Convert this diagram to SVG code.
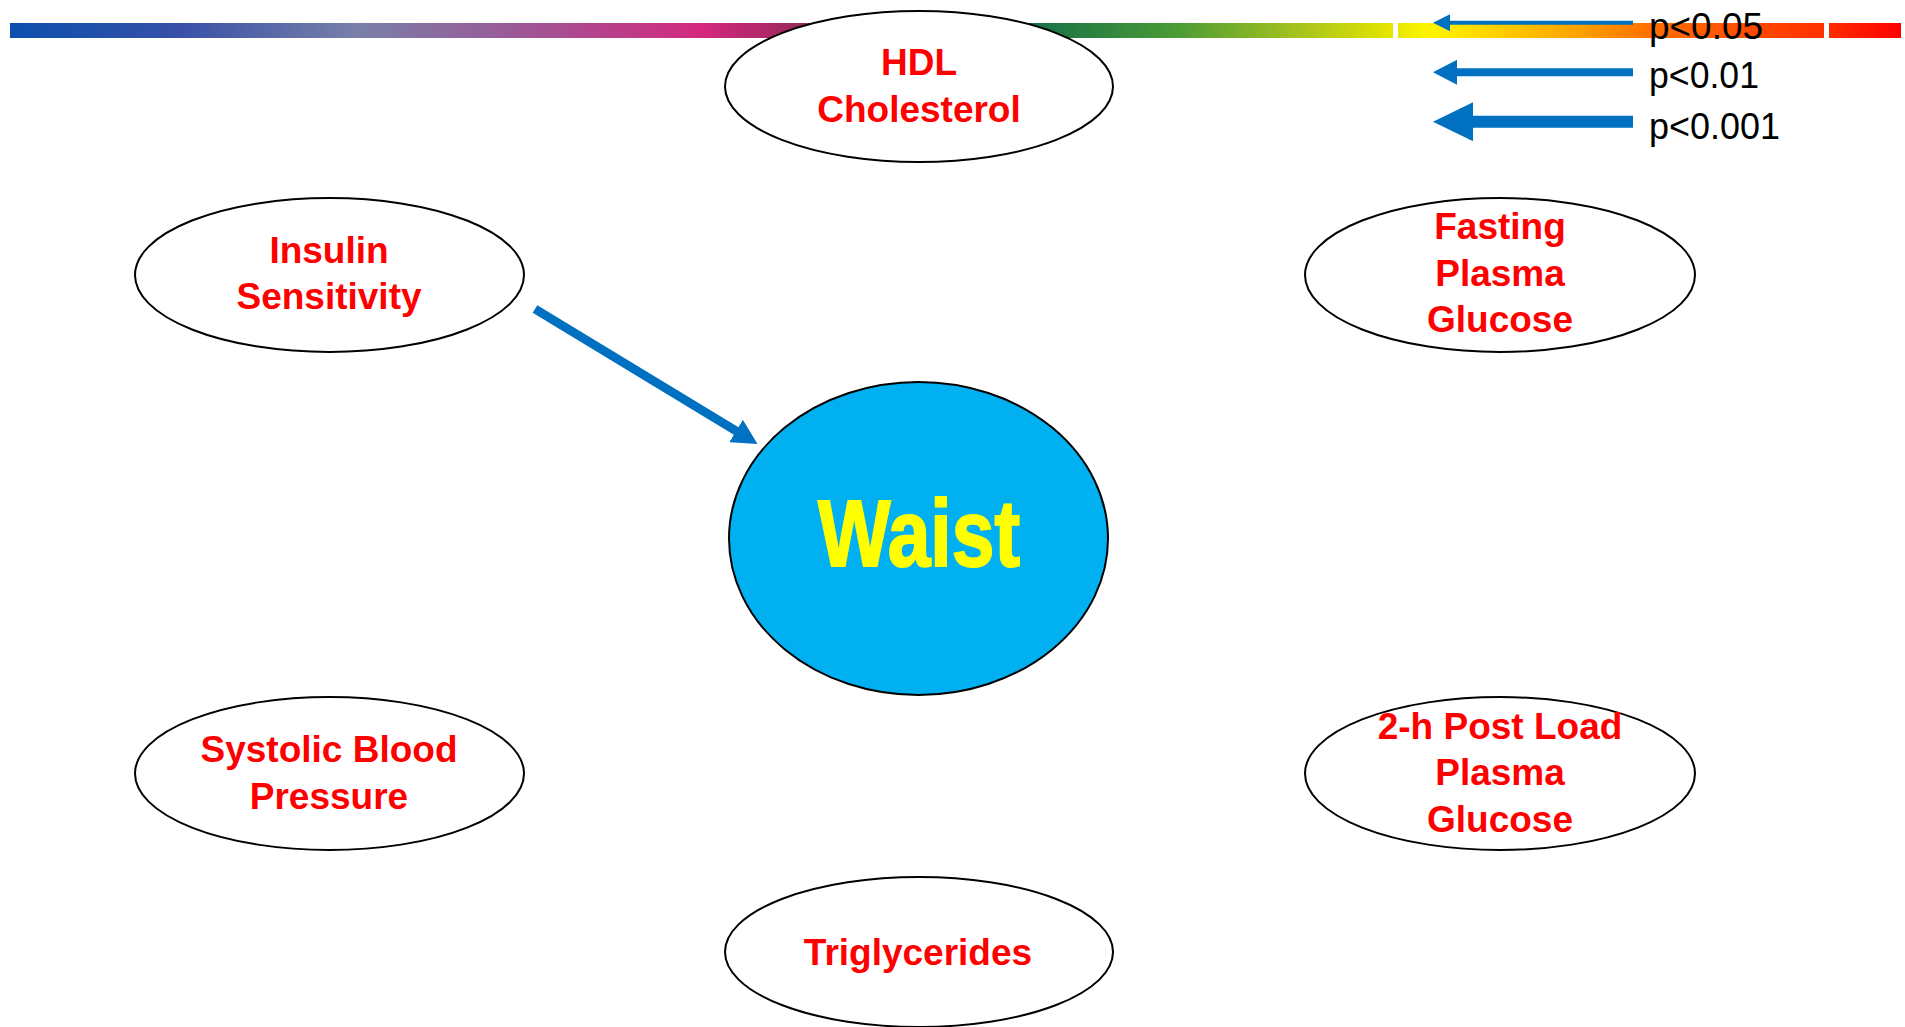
<svg xmlns="http://www.w3.org/2000/svg" width="1905" height="1027" viewBox="0 0 1905 1027">
  <defs>
    <linearGradient id="bar" gradientUnits="userSpaceOnUse" x1="10" y1="0" x2="1901" y2="0">
      <stop offset="0" stop-color="#0a50ae"/>
      <stop offset="0.09" stop-color="#3850a8"/>
      <stop offset="0.183" stop-color="#7880a8"/>
      <stop offset="0.264" stop-color="#9a5a98"/>
      <stop offset="0.367" stop-color="#d4287e"/>
      <stop offset="0.412" stop-color="#a02860"/>
      <stop offset="0.54" stop-color="#157048"/>
      <stop offset="0.616" stop-color="#4a9a35"/>
      <stop offset="0.677" stop-color="#a0c020"/>
      <stop offset="0.731" stop-color="#e6e600"/>
      <stop offset="0.751" stop-color="#fff500"/>
      <stop offset="0.831" stop-color="#ffa000"/>
      <stop offset="0.867" stop-color="#ff7000"/>
      <stop offset="0.959" stop-color="#ff3000"/>
      <stop offset="1" stop-color="#ff0000"/>
    </linearGradient>
    <marker id="headBig" markerUnits="userSpaceOnUse" markerWidth="26" markerHeight="26" refX="1" refY="13" orient="auto">
      <path d="M0,0 L25,13 L0,26 z" fill="#0070c0"/>
    </marker>
    <marker id="head1" markerUnits="userSpaceOnUse" markerWidth="18" markerHeight="17" refX="1" refY="8.5" orient="auto">
      <path d="M0,0 L17,8.5 L0,17 z" fill="#0070c0"/>
    </marker>
    <marker id="head2" markerUnits="userSpaceOnUse" markerWidth="25" markerHeight="25" refX="1" refY="12.5" orient="auto">
      <path d="M0,0 L24,12.5 L0,25 z" fill="#0070c0"/>
    </marker>
    <marker id="head3" markerUnits="userSpaceOnUse" markerWidth="41" markerHeight="39" refX="1" refY="19.5" orient="auto">
      <path d="M0,0 L40,19.5 L0,39 z" fill="#0070c0"/>
    </marker>
  </defs>
  <style>
    .node { fill: #ffffff; stroke: #000000; stroke-width: 2; }
    .lbl { fill: #ff0000; font-family: "Liberation Sans", Arial, sans-serif; font-weight: bold; font-size: 37px; text-anchor: middle; }
    .leg { fill: #000000; font-family: "Liberation Sans", Arial, sans-serif; font-size: 37px; }
    .conn { stroke: #0070c0; fill: none; }
  </style>

  <g id="colour-bar">
    <rect x="10" y="23" width="1891" height="15" fill="url(#bar)"/>
    <rect x="1393" y="22" width="5" height="17" fill="#ffffff"/>
    <rect x="1824" y="22" width="5" height="17" fill="#ffffff"/>
  </g>

  <g id="node-hdl">
    <ellipse class="node" cx="919" cy="86.5" rx="194" ry="75.5"/>
    <text class="lbl" x="919" y="75">HDL</text>
    <text class="lbl" x="919" y="122">Cholesterol</text>
  </g>

  <g id="node-insulin">
    <ellipse class="node" cx="329.5" cy="275" rx="194.5" ry="77"/>
    <text class="lbl" x="329" y="263">Insulin</text>
    <text class="lbl" x="329" y="309">Sensitivity</text>
  </g>

  <g id="node-fasting">
    <ellipse class="node" cx="1500" cy="275" rx="195" ry="77"/>
    <text class="lbl" x="1500" y="239">Fasting</text>
    <text class="lbl" x="1500" y="285.5">Plasma</text>
    <text class="lbl" x="1500" y="332">Glucose</text>
  </g>

  <g id="node-systolic">
    <ellipse class="node" cx="329.5" cy="773.5" rx="194.5" ry="76.5"/>
    <text class="lbl" x="329" y="762">Systolic Blood</text>
    <text class="lbl" x="329" y="808.5">Pressure</text>
  </g>

  <g id="node-posload">
    <ellipse class="node" cx="1500" cy="773.5" rx="195" ry="76.5"/>
    <text class="lbl" x="1500" y="738.5">2-h Post Load</text>
    <text class="lbl" x="1500" y="785">Plasma</text>
    <text class="lbl" x="1500" y="831.5">Glucose</text>
  </g>

  <g id="node-triglycerides">
    <ellipse class="node" cx="919" cy="952" rx="194" ry="75"/>
    <text class="lbl" x="918" y="965">Triglycerides</text>
  </g>

  <g id="node-waist">
    <ellipse cx="918.5" cy="538.5" rx="189.5" ry="156.5" fill="#00b0f0" stroke="#000000" stroke-width="2"/>
    <text x="919" y="566" text-anchor="middle" textLength="202" lengthAdjust="spacingAndGlyphs" font-family="'Liberation Sans Narrow', 'Liberation Sans', Arial, sans-serif" font-weight="bold" font-size="95" fill="#ffff00" stroke="#ffff00" stroke-width="2">Waist</text>
  </g>

  <g id="connectors">
    <line class="conn" x1="535" y1="309" x2="737" y2="431.5" stroke-width="9" marker-end="url(#headBig)"/>
  </g>

  <g id="legend">
    <line class="conn" x1="1633" y1="22.7" x2="1449" y2="22.7" stroke-width="4" marker-end="url(#head1)"/>
    <line class="conn" x1="1633" y1="72.3" x2="1456" y2="72.3" stroke-width="8" marker-end="url(#head2)"/>
    <line class="conn" x1="1633" y1="121.7" x2="1472" y2="121.7" stroke-width="12" marker-end="url(#head3)"/>
    <text class="leg" x="1649" y="39" textLength="114" lengthAdjust="spacingAndGlyphs">p&lt;0.05</text>
    <text class="leg" x="1649" y="88" textLength="110" lengthAdjust="spacingAndGlyphs">p&lt;0.01</text>
    <text class="leg" x="1649" y="139" textLength="131" lengthAdjust="spacingAndGlyphs">p&lt;0.001</text>
  </g>
</svg>
